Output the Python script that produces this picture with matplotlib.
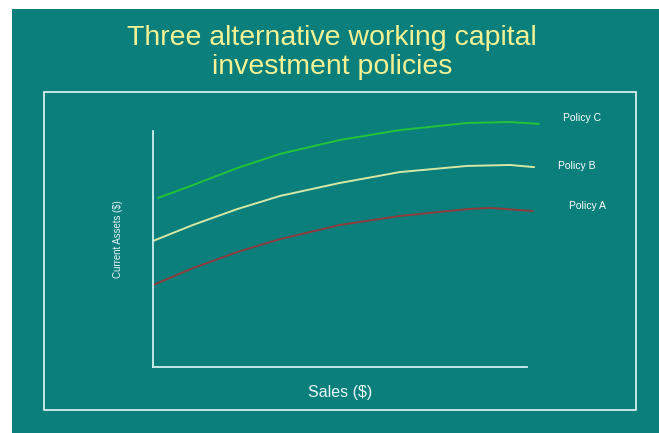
import matplotlib
matplotlib.use("Agg")
import matplotlib.pyplot as plt
from matplotlib.patches import Rectangle

plt.rcParams['font.family'] = ['Liberation Sans', 'DejaVu Sans']

# Data (arbitrary units: sales 0-100 on x axis, current assets 0-100 on y axis)
sales_c = [1.3, 10.7, 22.5, 34.0, 50.0, 66.0, 84.0, 95.5, 103.2]
assets_c = [71.6, 77.1, 84.3, 90.3, 96.2, 100.4, 103.4, 103.8, 103.0]
sales_b = [0.0, 10.7, 22.5, 34.0, 50.0, 66.0, 84.0, 95.5, 101.9]
assets_b = [53.4, 60.2, 66.9, 72.5, 78.0, 82.6, 85.2, 85.6, 84.7]
sales_a = [0.0, 10.7, 22.5, 34.0, 50.0, 66.0, 84.0, 90.1, 101.6]
assets_a = [34.7, 41.9, 48.7, 54.2, 60.2, 64.0, 66.9, 67.4, 66.1]
series_names = ["Policy C", "Policy B", "Policy A"]
title_lines = ["Three alternative working capital", "investment policies"]
xlabel = "Sales ($)"
ylabel = "Current Assets ($)"

W, H = 659, 433
fig = plt.figure(figsize=(W / 100, H / 100), dpi=100)
fig.patch.set_facecolor("white")

teal = "#0A7F7B"
light = "#D2F0F0"

def fx(px):
    return px / W

def fy(py):
    return 1 - py / H

# teal slide background
fig.patches.append(Rectangle((fx(12), 0), 1 - fx(12), fy(9), transform=fig.transFigure,
                             facecolor=teal, edgecolor="none", zorder=0))
# inner white frame
fig.patches.append(Rectangle((fx(44), fy(410)), fx(636) - fx(44), fy(92) - fy(410),
                             transform=fig.transFigure, facecolor="none",
                             edgecolor="#E8F8F8", linewidth=1.2, zorder=1))

title_color = "#F2F294"
fig.text(fx(332), fy(38), title_lines[0], ha="center", va="center",
         fontsize=20.5, color=title_color)
fig.text(fx(332), fy(67), title_lines[1], ha="center", va="center",
         fontsize=20.5, color=title_color)

ax = fig.add_axes([fx(153), fy(367), fx(527) - fx(153), fy(131) - fy(367)])
ax.set_zorder(5)
ax.set_facecolor("none")
ax.patch.set_visible(False)
ax.set_xlim(0, 100)
ax.set_ylim(0, 100)
for s in ["top", "right"]:
    ax.spines[s].set_visible(False)
for s in ["left", "bottom"]:
    ax.spines[s].set_color(light)
    ax.spines[s].set_linewidth(1.3)
ax.set_xticks([])
ax.set_yticks([])

colors = ["#22C43A", "#D6E8A6", "#8E3C3C"]
data = [(sales_c, assets_c), (sales_b, assets_b), (sales_a, assets_a)]
for (xs, ys), c in zip(data, colors):
    ax.plot(xs, ys, color=c, linewidth=1.4, clip_on=False,
            solid_joinstyle="round", solid_capstyle="round")

label_pos = [(109.6, 105.5), (108.3, 85.2), (111.2, 68.2)]
for name, (lx, ly) in zip(series_names, label_pos):
    ax.text(lx, ly, name, ha="left", va="center", fontsize=7.5, color="white",
            clip_on=False)

fig.text(fx(340), fy(392), xlabel, ha="center", va="center", fontsize=11.5,
         color="#E8F8F8")
fig.text(fx(118), fy(239), ylabel, ha="center", va="center", fontsize=6.9,
         color="#E8F8F8", rotation=90)

fig.savefig("out.png", dpi=100, facecolor=fig.get_facecolor())
